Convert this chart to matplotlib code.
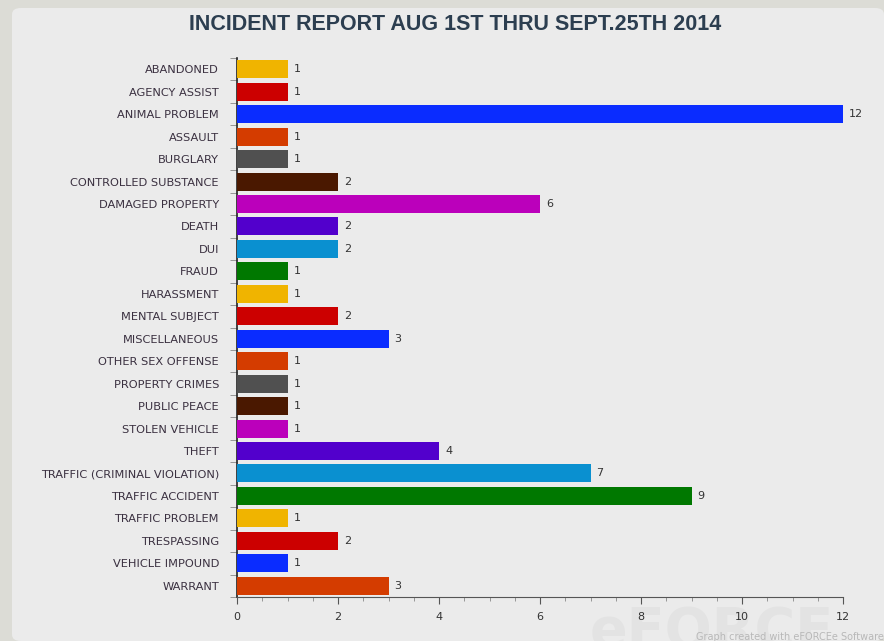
import matplotlib
matplotlib.use("Agg")
import matplotlib.pyplot as plt
from matplotlib.patches import FancyBboxPatch
from matplotlib.ticker import MultipleLocator

categories = ["ABANDONED", "AGENCY ASSIST", "ANIMAL PROBLEM", "ASSAULT", "BURGLARY",
              "CONTROLLED SUBSTANCE", "DAMAGED PROPERTY", "DEATH", "DUI", "FRAUD",
              "HARASSMENT", "MENTAL SUBJECT", "MISCELLANEOUS", "OTHER SEX OFFENSE",
              "PROPERTY CRIMES", "PUBLIC PEACE", "STOLEN VEHICLE", "THEFT",
              "TRAFFIC (CRIMINAL VIOLATION)", "TRAFFIC ACCIDENT", "TRAFFIC PROBLEM",
              "TRESPASSING", "VEHICLE IMPOUND", "WARRANT"]
counts = [1, 1, 12, 1, 1, 2, 6, 2, 2, 1, 1, 2, 3, 1, 1, 1, 1, 4, 7, 9, 1, 2, 1, 3]
palette = ["#f0b400", "#cc0000", "#0a2cff", "#d43c00", "#505050",
           "#4a1800", "#bb00bb", "#5200cc", "#0a90d0", "#007800"]
title = "INCIDENT REPORT AUG 1ST THRU SEPT.25TH 2014"

W, H = 884, 641
fig = plt.figure(figsize=(W / 100, H / 100), dpi=100)
fig.patch.set_facecolor("#dcdcd6")
panel = FancyBboxPatch((12 / W, 0), 1 - 12 / W, 1 - 8 / H,
                       boxstyle="round,pad=0,rounding_size=0.01",
                       transform=fig.transFigure, facecolor="#ebebeb",
                       edgecolor="none", zorder=-5)
fig.patches.append(panel)

fig.text(712 / W, 1 - 632 / H, "eFORCE", ha="center", va="center", fontsize=40,
         fontweight="bold", color="#e3e3e3", zorder=-4)
fig.text(884 / W, 1 - 637 / H, "Graph created with eFORCEe Software", ha="right",
         va="center", fontsize=7, color="#b8b8b8", zorder=-3)

ax = fig.add_axes([237 / W, 1 - 597 / H, (843 - 237) / W, (597 - 58) / H])
ax.set_facecolor("none")

ypos = list(range(len(categories)))
colors = [palette[i % len(palette)] for i in range(len(categories))]
ax.barh(ypos, counts, height=0.8, color=colors, edgecolor="none", zorder=3)
for y, v in zip(ypos, counts):
    ax.text(v + 0.12, y, str(v), va="center", ha="left", fontsize=8,
            color="#333333", zorder=4)

ax.set_ylim(len(categories) - 0.5, -0.5)
ax.set_xlim(0, 12)
ax.set_yticks(ypos)
ax.set_yticklabels(categories, fontsize=8.2, color="#3a3040")
ax.tick_params(axis="y", length=0, pad=13)
ax.set_yticks([i - 0.5 for i in range(len(categories) + 1)], minor=True)
ax.tick_params(axis="y", which="minor", length=5, color="#888888")

ax.xaxis.set_major_locator(MultipleLocator(2))
ax.xaxis.set_minor_locator(MultipleLocator(0.5))
ax.tick_params(axis="x", which="major", length=5, color="#555555", labelsize=8,
               labelcolor="#333333", pad=6)
ax.tick_params(axis="x", which="minor", length=3, color="#888888")

for s in ["top", "right"]:
    ax.spines[s].set_visible(False)
ax.spines["left"].set_color("#222222")
ax.spines["bottom"].set_color("#555555")
ax.spines["left"].set_linewidth(1.2)

fig.text(455 / W, 1 - 24 / H, title, ha="center", va="center", fontsize=15.5,
         fontweight="bold", color="#2c3e50", family="Liberation Sans")

fig.savefig("out.png", dpi=100, facecolor=fig.get_facecolor())
